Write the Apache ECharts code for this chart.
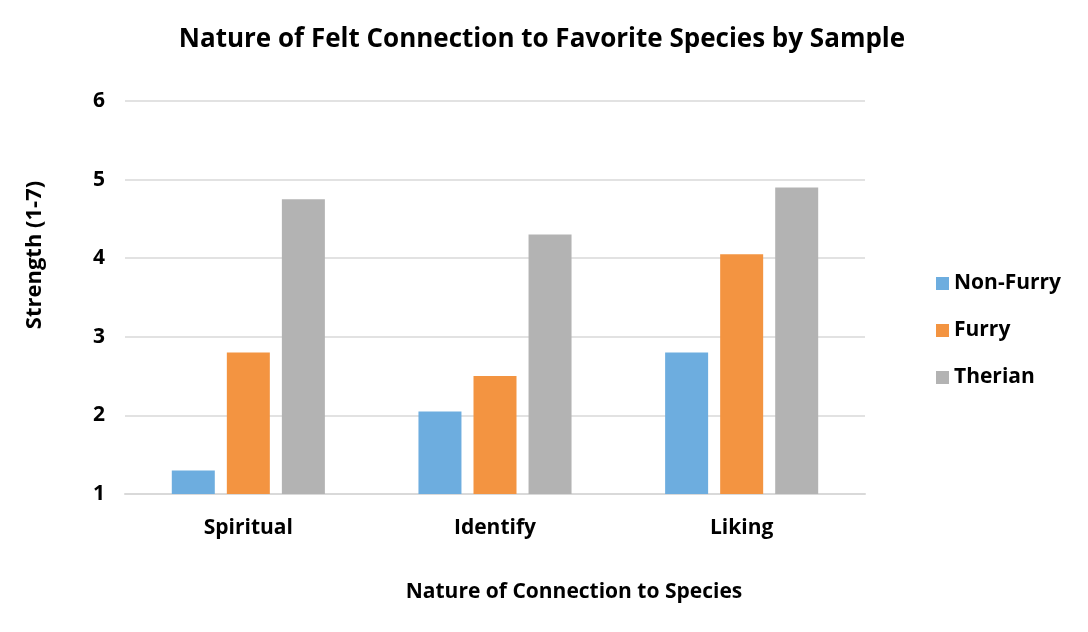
<!DOCTYPE html>
<html><head><meta charset="utf-8">
<script src="https://cdn.jsdelivr.net/npm/echarts@6/dist/echarts.min.js"></script>
<style>html,body{margin:0;padding:0;background:#fff}#c{width:1088px;height:632px}</style>
</head><body><div id="c"></div>
<script>
const categories = ['Spiritual', 'Identify', 'Liking'];
const nonFurry = [1.3, 2.05, 2.8];
const furry = [2.8, 2.5, 4.05];
const therian = [4.75, 4.3, 4.9];
const seriesNames = ['Non-Furry', 'Furry', 'Therian'];
const colors = ['#6DADDF', '#F39441', '#B3B3B3'];
const font = '"Open Sans", sans-serif';

const chart = echarts.init(document.getElementById('c'));
const mk = (name, data, color) => ({
  name, type: 'bar', data, barWidth: 43, barGap: '28%',
  itemStyle: { color }
});
chart.setOption({
  animation: false,
  textStyle: { fontFamily: font },
  title: {
    text: 'Nature of Felt Connection to Favorite Species by Sample',
    left: 537, top: 22, textAlign: 'center',
    textStyle: { fontSize: 26, fontWeight: 'bold', color: '#000', fontFamily: font }
  },
  legend: {
    orient: 'vertical', left: 936, top: 273, padding: 0, itemWidth: 13, itemHeight: 13, itemGap: 26,
    icon: 'rect',
    textStyle: { fontSize: 21, fontWeight: 'bold', color: '#000', fontFamily: font },
    data: seriesNames
  },
  grid: { left: 125, right: 223, top: 101, bottom: 138, containLabel: false },
  xAxis: {
    type: 'category', data: categories,
    axisLine: { show: true, lineStyle: { color: '#d9d9d9', width: 2 } },
    axisTick: { show: false },
    axisLabel: { fontSize: 21, fontWeight: 'bold', color: '#000', margin: 24, fontFamily: font }
  },
  yAxis: {
    type: 'value', min: 1, max: 6, interval: 1,
    axisLine: { show: false }, axisTick: { show: false },
    splitLine: { lineStyle: { color: '#d9d9d9', width: 1.5 } },
    axisLabel: { fontSize: 21, fontWeight: 'bold', color: '#000', margin: 20, fontFamily: font }
  },
  graphic: [
    { type: 'text', x: 35, y: 255, rotation: Math.PI / 2, silent: true,
      style: { text: 'Strength (1-7)', fontSize: 22, fontWeight: 'bold', fill: '#000', fontFamily: font, align: 'center', verticalAlign: 'middle' } },
    { type: 'text', x: 574, y: 592, silent: true,
      style: { text: 'Nature of Connection to Species', fontSize: 21, fontWeight: 'bold', fill: '#000', fontFamily: font, align: 'center', verticalAlign: 'middle' } }
  ],
  series: [
    mk(seriesNames[0], nonFurry, colors[0]),
    mk(seriesNames[1], furry, colors[1]),
    mk(seriesNames[2], therian, colors[2])
  ]
});
</script></body></html>
